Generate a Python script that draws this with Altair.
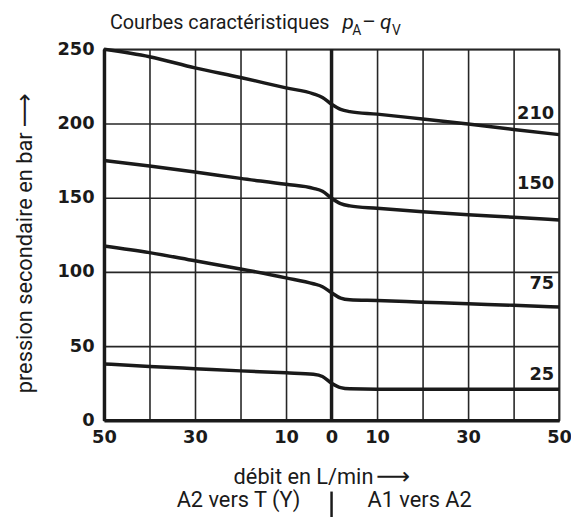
import altair as alt
import pandas as pd

# ---- data ----
flow = [-50, -40, -30, -20, -10, -4, -2, 0, 2, 4, 10, 20, 30, 40, 50]
p210 = [250, 245, 237.5, 231, 224, 220, 217.5, 213, 209.5, 208, 206.3, 203, 199.6, 196, 192.5]
p150 = [175, 171.3, 167.3, 163, 159, 156.3, 154.3, 149.6, 146, 144.5, 142.9, 140.5, 138.5, 136.8, 135]
p75 = [117.5, 113, 107.5, 102, 96, 92, 90, 86, 82.3, 81.2, 80.7, 79.6, 78.5, 77.5, 76.3]
p25 = [38, 36.3, 34.8, 33.3, 32, 31, 29.5, 25, 22, 21.2, 21, 21, 21, 21, 21]
curve_names = ["210", "150", "75", "25"]
label_q = [50, 50, 50, 50]
label_p = [206.5, 159, 91.5, 30.8]
x_ticks = list(range(-50, 51, 10))
y_ticks = list(range(0, 251, 50))

rows = []
for name, vals in zip(curve_names, [p210, p150, p75, p25]):
    for q, p in zip(flow, vals):
        rows.append({"curve": name, "q": q, "p": p})
df = pd.DataFrame(rows)
lab_df = pd.DataFrame({"curve": curve_names, "q": label_q, "p": label_p})

TXT = "Roboto"
NUM = "DejaVu Sans"
ARW = "DejaVu Sans"
INK = "#1a1a1a"

x_scale = alt.Scale(domain=[-50, 50], nice=False, zero=False)
y_scale = alt.Scale(domain=[0, 250], nice=False)

x_axis = alt.Axis(
    values=x_ticks,
    labelExpr="abs(datum.value) % 20 == 10 || datum.value == 0 ? format(abs(datum.value), 'd') : ''",
    title=None, ticks=False, labelFont=NUM, labelFontWeight="bold", labelFontSize=18,
    labelPadding=8, labelFlush=False, labelOverlap=False, labelColor=INK,
    domainWidth=3.5, domainColor=INK, grid=True, gridColor="#262626", gridWidth=1.6,
)
y_axis = alt.Axis(
    values=y_ticks, title=None, ticks=False, labelFont=NUM, labelFontWeight="bold",
    labelFontSize=18, labelPadding=10, labelColor=INK, labelFlush=False, labelOverlap=False,
    domainWidth=3.5, domainColor=INK, grid=True, gridColor="#262626", gridWidth=1.6,
)

base = alt.Chart(df)
lines = base.mark_line(interpolate="monotone", color=INK, strokeWidth=3.5).encode(
    x=alt.X("q:Q", scale=x_scale, axis=x_axis),
    y=alt.Y("p:Q", scale=y_scale, axis=y_axis),
    detail="curve:N",
)

center = alt.Chart(pd.DataFrame({"q": [0]})).mark_rule(color=INK, strokeWidth=3.5).encode(
    x=alt.X("q:Q", scale=x_scale)
)

labels = alt.Chart(lab_df).mark_text(
    align="right", baseline="middle", dx=-5, font=NUM, fontWeight="bold", fontSize=18, color=INK
).encode(x=alt.X("q:Q", scale=x_scale), y=alt.Y("p:Q", scale=y_scale), text="curve:N")

one = pd.DataFrame({"a": [0]})


def txt(s, x, y, size=22, align="left", baseline="alphabetic", angle=0, style="normal", font=TXT):
    return alt.Chart(one).mark_text(
        text=s, align=align, baseline=baseline, angle=angle, font=font, fontSize=size,
        fontStyle=style, color=INK,
    ).encode(x=alt.value(x), y=alt.value(y))


title_parts = [
    txt("Courbes caractéristiques", 6, -20, size=20),
    txt("p", 241, -20, size=21, style="italic"),
    txt("A", 251, -14, size=14),
    txt("–", 261, -20, size=21),
    txt("q", 279, -20, size=21, style="italic"),
    txt("V", 291, -14, size=14),
]

x_title = txt("débit en L/min", 131, 432, baseline="middle")
x_arrow = txt("⟶", 275, 432, size=24, baseline="middle", font=ARW)
y_title = txt("pression secondaire en bar", -80, 84, align="right", baseline="middle", angle=270)
y_arrow = txt("⟶", -80, 79, size=24, align="left", baseline="middle", angle=270, font=ARW)
left_note = txt("A2 vers T (Y)", 136, 456, align="center", baseline="middle")
right_note = txt("A1 vers A2", 319, 456, align="center", baseline="middle")
bar = alt.Chart(pd.DataFrame({"q": [0]})).mark_rule(color=INK, strokeWidth=2.5).encode(
    x=alt.X("q:Q", scale=x_scale), y=alt.value(447), y2=alt.value(480)
)

chart = alt.layer(
    lines, center, labels, *title_parts, x_title, x_arrow, y_title, y_arrow,
    left_note, right_note, bar
).properties(
    width=460, height=375,
    autosize=alt.AutoSizeParams(type="none"),
    padding={"left": 97, "top": 39, "right": 12, "bottom": 95},
).configure_view(stroke="#222", strokeWidth=1.8)

chart.save("out.html", embed_options={"renderer": "svg", "actions": False})
